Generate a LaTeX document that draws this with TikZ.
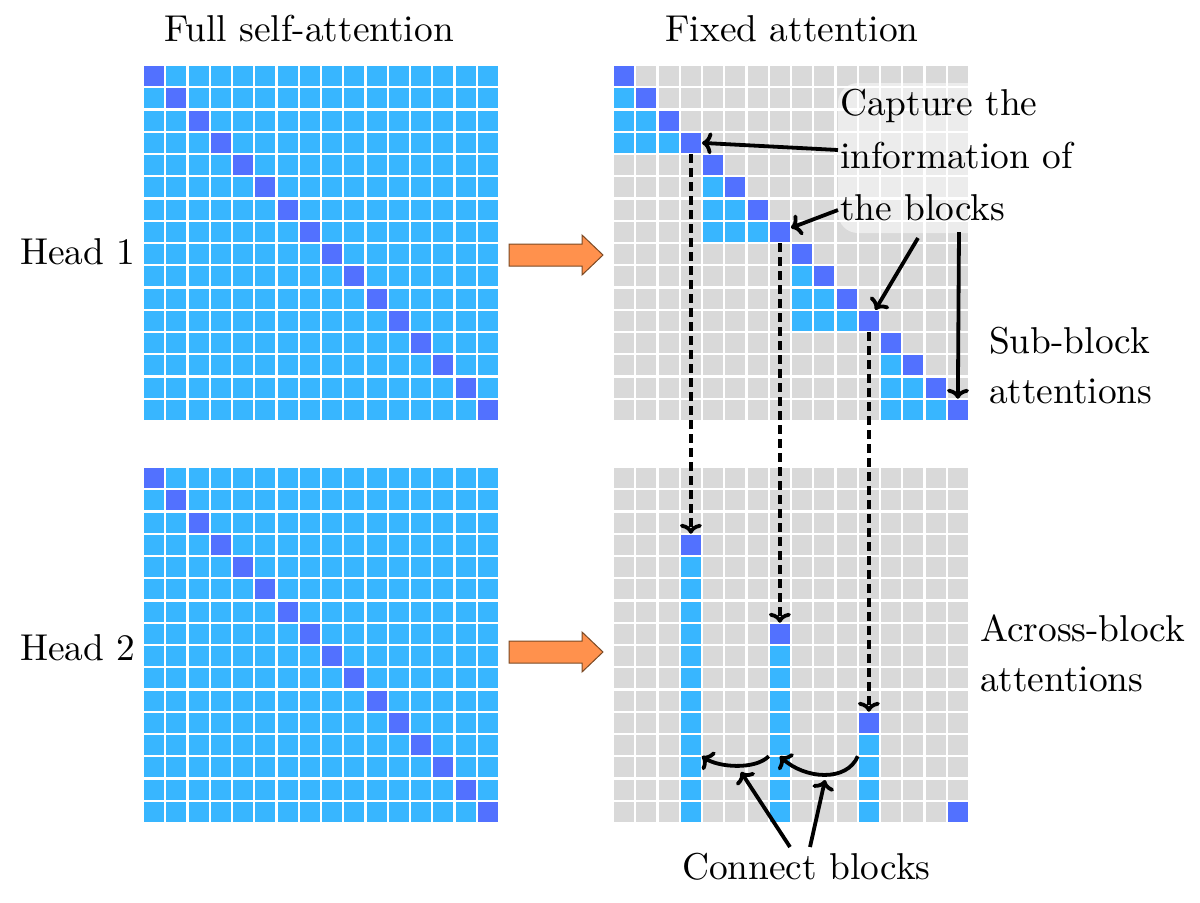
\documentclass[tikz,border=0pt]{standalone}
\usepackage{graphicx}
\usetikzlibrary{arrows.meta,calc}
\definecolor{clight}{HTML}{38B6FF}
\definecolor{cdark}{HTML}{5271FF}
\definecolor{cgray}{HTML}{D9D9D9}
\definecolor{corange}{HTML}{FF914D}
\definecolor{cedge}{HTML}{7A4A25}
\newcommand{\bigtxt}[1]{\scalebox{1.87}{#1}}
\begin{document}
\begin{tikzpicture}[x=0.5pt,y=-0.5pt,
  cell/.style={rectangle,draw=white,line width=1.1pt,minimum size=11.125pt,inner sep=0pt,outer sep=0pt},
  lbl/.style={inner sep=0pt,outer sep=0pt,anchor=base west},
  arr/.style={line width=1.9pt,-{To[length=5pt,width=11pt]}},
  dsh/.style={arr,dash pattern=on 4.5pt off 2.5pt},
  orarrow/.style={fill=corange,draw=cedge,line width=0.5pt}]
\useasboundingbox (0,0) rectangle (1200,902);
\fill[white] (0,0) rectangle (1200,902);
% grids
\foreach \gx/\gy/\gt/\gn in {143/65/0/TL,143/467/0/BL,613/65/1/TR,613/467/2/BR}{
  \foreach \r in {0,...,15}{
    \foreach \c in {0,...,15}{
      \ifcase\gt\relax
        \pgfmathtruncatemacro\k{\r==\c ? 2 : 1}
      \or
        \pgfmathtruncatemacro\k{\r==\c ? 2 : ((int(\r/4)==int(\c/4)) && (\c<\r) ? 1 : 0)}
      \or
        \pgfmathtruncatemacro\k{((\r==\c) && (\c==3 || \c==7 || \c==11 || \c==15)) ? 2 : (((\r>\c) && (\c==3 || \c==7 || \c==11)) ? 1 : 0)}
      \fi
      \ifcase\k\relax \def\col{cgray}\or \def\col{clight}\or \def\col{cdark}\fi
      \node[cell,fill=\col] (\gn-\r-\c) at ({\gx+(\c+0.5)*22.25},{\gy+(\r+0.5)*22.25}) {};
    }
  }
}
% caption box
\fill[white,fill opacity=0.5,rounded corners=10pt] (838,83) rectangle (1080,233);
% orange arrows
\foreach \dy in {0,397}{
  \filldraw[orarrow] (509,{244+\dy}) -- (582,{244+\dy}) -- (582,{235+\dy}) -- (603,{255+\dy}) -- (582,{275+\dy}) -- (582,{266+\dy}) -- (509,{266+\dy}) -- cycle;
}
% labels
\node[lbl,anchor=base] (t1) at (309,41) {\bigtxt{Full self-attention}};
\node[lbl,anchor=base] (t2) at (792,41) {\bigtxt{Fixed attention}};
\node[lbl] (h1) at (20,264) {\bigtxt{Head 1}};
\node[lbl] (h2) at (20,660) {\bigtxt{Head 2}};
\node[lbl] (sb1) at (989,353) {\bigtxt{Sub-block}};
\node[lbl] (sb2) at (989,403) {\bigtxt{attentions}};
\node[lbl] (ab1) at (980,641) {\bigtxt{Across-block}};
\node[lbl] (ab2) at (980,691) {\bigtxt{attentions}};
\node[lbl] (c1) at (840,115) {\bigtxt{Capture the}};
\node[lbl] (c2) at (840,168) {\bigtxt{information of}};
\node[lbl] (c3) at (840,220) {\bigtxt{the blocks}};
\node[lbl] (cb) at (682,879) {\bigtxt{Connect blocks}};
% capture arrows
\coordinate (s1) at (838,150);
\coordinate (s2) at (838,210);
\coordinate (s3) at (918,238);
\coordinate (s4) at (959,232);
\draw[arr] (s1) -- (TR-3-3.east);
\draw[arr] (s2) -- (TR-7-7.20);
\draw[arr] (s3) -- (TR-11-11.60);
\draw[arr] (s4) -- (TR-15-15.north);
% dashed links
\draw[dsh] (TR-3-3.south) -- (BR-3-3.north);
\draw[dsh] (TR-7-7.south) -- (BR-7-7.north);
\draw[dsh] (TR-11-11.south) -- (BR-11-11.north);
% connect arcs
\draw[arr] (BR-13-7.north west) .. controls +(-14,14) and +(16,11) .. (BR-12-3.south east);
\draw[arr] (BR-13-11.north west) .. controls +(-11,26) and +(25,23) .. (BR-13-7.north);
\coordinate (k1) at (790,847);
\coordinate (k1e) at (741,772);
\coordinate (k2) at (810,847);
\coordinate (k2e) at (825,780);
\draw[arr] (k1) -- (k1e);
\draw[arr] (k2) -- (k2e);
\end{tikzpicture}
\end{document}
